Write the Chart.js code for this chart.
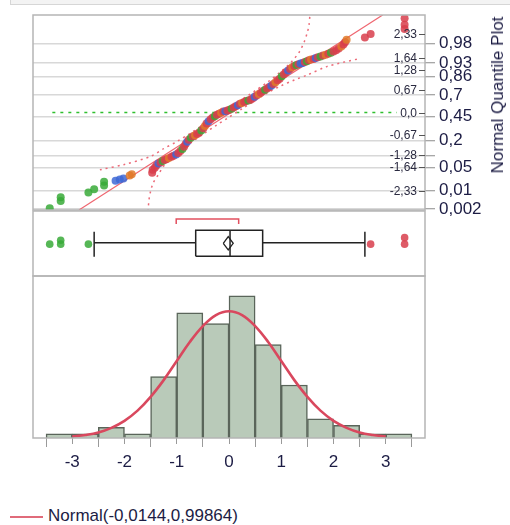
<!DOCTYPE html>
<html>
<head>
<meta charset="utf-8">
<title>Normal Quantile Plot</title>
<script src="https://cdn.jsdelivr.net/npm/chart.js@4.4.1/dist/chart.umd.min.js"></script>
<style>
  html, body { margin: 0; padding: 0; background: #fff; }
  body { position: relative; width: 510px; height: 525px; overflow: hidden;
         font-family: 'Liberation Sans', Arial, sans-serif; color: #1c1c44; }
  .topbar { position: absolute; left: 10px; top: -1px; width: 505px; height: 4px;
            background: #f3f3f3; border: 1px solid #d6d6d6; }
  canvas { position: absolute; left: 0; }
  #qq { top: 0; }
  #box { top: 200px; }
  #hist { top: 260px; }
  .ytitle { position: absolute; left: 498px; top: 95px; white-space: nowrap; font-size: 17px;
            transform: translate(-50%, -50%) rotate(-90deg); }
  .legend { position: absolute; left: 10px; top: 506px; font-size: 17px; white-space: nowrap; }
  .legend .swatch { display: inline-block; width: 33px; height: 2px; background: #e06b7a;
                    vertical-align: middle; margin-right: 5px; }
</style>
</head>
<body>
<div class="topbar"></div>
<canvas id="qq" width="510" height="225"></canvas>
<canvas id="box" width="510" height="90"></canvas>
<canvas id="hist" width="510" height="210"></canvas>
<div class="ytitle">Normal Quantile Plot</div>
<div class="legend"><span class="swatch"></span>Normal(-0,0144,0,99864)</div>
<script>
// ---- histogram ----
const binCenters = [-3.25, -2.75, -2.25, -1.75, -1.25, -0.75, -0.25, 0.25, 0.75, 1.25, 1.75, 2.25, 2.75, 3.25];
const binCounts  = [2, 2, 5, 2, 29, 59, 54, 67, 44, 25, 9, 6, 2, 2];

// fitted normal curve, in counts per bin
const curveX = [-3, -2.75, -2.5, -2.25, -2, -1.75, -1.5, -1.25, -1, -0.75, -0.5, -0.25, 0,
                0.25, 0.5, 0.75, 1, 1.25, 1.5, 1.75, 2, 2.25, 2.5, 2.75, 3];
const curveY = [0.7, 1.4, 2.6, 4.8, 8.1, 12.9, 19.4, 27.3, 36.3, 45.3, 52.8, 58.0, 59.8,
                58.0, 52.8, 45.3, 36.3, 27.3, 19.4, 12.9, 8.1, 4.8, 2.6, 1.4, 0.7];

// ---- normal quantile plot (value, normal quantile, colour group) ----
const qqX = [-3.43, -3.22, -3.22, -2.69, -2.58, -2.39, -2.39, -2.17, -2.09, -2.02, -1.90, -1.86,
  -1.47, -1.46, -1.42, -1.39, -1.35, -1.31, -1.27, -1.23, -1.19, -1.15,
  -1.10, -1.06, -1.01, -0.97, -0.93, -0.89, -0.86, -0.83, -0.80, -0.77,
  -0.73, -0.69, -0.65, -0.61, -0.57, -0.53, -0.49, -0.46, -0.43, -0.39,
  -0.35, -0.31, -0.27, -0.23, -0.19, -0.15, -0.11, -0.07, -0.03, 0.01,
  0.05, 0.09, 0.13, 0.17, 0.21, 0.25, 0.29, 0.33, 0.37, 0.41,
  0.45, 0.49, 0.53, 0.57, 0.61, 0.65, 0.69, 0.73, 0.77, 0.81,
  0.85, 0.89, 0.93, 0.97, 1.01, 1.05, 1.09, 1.13, 1.17, 1.21,
  1.25, 1.29, 1.33, 1.37, 1.41, 1.45, 1.49, 1.53, 1.57, 1.62,
  1.66, 1.70, 1.75, 1.80, 1.85, 1.90, 1.95, 2.00, 2.05, 2.10,
  2.15, 2.19, 2.22, 2.25,
  2.60, 2.71, 3.36, 3.36, 3.36];
const qqY = [-2.86, -2.64, -2.53, -2.39, -2.29, -2.18, -2.07, -2.04, -2.00, -1.97, -1.88, -1.84,
  -1.80, -1.71, -1.65, -1.58, -1.52, -1.49, -1.45, -1.42, -1.39, -1.36,
  -1.32, -1.29, -1.25, -1.21, -1.15, -1.09, -1.02, -0.94, -0.87, -0.81,
  -0.75, -0.71, -0.68, -0.64, -0.60, -0.54, -0.47, -0.40, -0.33, -0.26,
  -0.20, -0.15, -0.11, -0.07, -0.04, -0.01, 0.03, 0.04, 0.06, 0.08,
  0.11, 0.15, 0.19, 0.22, 0.26, 0.28, 0.31, 0.34, 0.36, 0.38,
  0.42, 0.47, 0.51, 0.55, 0.59, 0.64, 0.68, 0.72, 0.76, 0.80,
  0.85, 0.90, 0.96, 1.01, 1.08, 1.14, 1.20, 1.25, 1.30, 1.35,
  1.39, 1.42, 1.44, 1.46, 1.48, 1.51, 1.53, 1.56, 1.58, 1.60,
  1.63, 1.65, 1.67, 1.70, 1.72, 1.75, 1.78, 1.82, 1.86, 1.91,
  1.97, 2.03, 2.10, 2.17,
  2.24, 2.34, 2.49, 2.62, 2.81];
const qqGroup = [1, 1, 1, 1, 1, 1, 1, 2, 2, 2, 3, 3,
  0, 0, 0, 0, 2, 0, 1, 0, 0, 3,
  0, 0, 2, 0, 0, 1, 0, 0, 2, 0,
  1, 0, 3, 0, 0, 1, 0, 3, 0, 2,
  0, 0, 1, 0, 0, 3, 0, 2, 0, 0,
  1, 0, 0, 2, 0, 3, 0, 0, 1, 0,
  0, 2, 0, 3, 0, 0, 1, 0, 0, 2,
  0, 3, 0, 0, 1, 0, 0, 2, 0, 3,
  0, 1, 0, 2, 2, 0, 1, 0, 3, 0,
  2, 0, 1, 0, 3, 0, 1, 0, 0, 0,
  3, 0, 0, 3,
  0, 0, 0, 0, 0];

// normal fit line and Lilliefors confidence bands
const fitLineX = [-2.87, 2.94];
const fitLineY = [-2.91, 2.91];
const bandUpX = [-2.47, -2.0, -1.5, -1.25, -1.0, -0.75, -0.5, -0.25, 0, 0.25, 0.5, 0.75, 1.0, 1.2, 1.35, 1.45, 1.5, 1.53, 1.55];
const bandUpY = [-1.71, -1.55, -1.31, -1.08, -0.87, -0.63, -0.37, -0.11, 0.14, 0.39, 0.65, 0.92, 1.23, 1.52, 1.82, 2.15, 2.4, 2.6, 2.95];
const bandLoX = [-1.55, -1.53, -1.50, -1.45, -1.35, -1.25, -1.0, -0.75, -0.5, -0.25, 0, 0.25, 0.5, 0.75, 1.0, 1.25, 1.5, 1.87, 2.47];
const bandLoY = [-2.95, -2.60, -2.35, -2.10, -1.85, -1.60, -1.24, -0.93, -0.65, -0.39, -0.14, 0.11, 0.36, 0.60, 0.80, 0.97, 1.12, 1.37, 1.60];
const zeroLineX = [-3.38, 3.21];
const zeroLineY = [0, 0];

// ---- outlier box plot ----
const boxQ1 = -0.637, boxMedian = 0.02, boxQ3 = 0.644;
const whiskerLo = -2.58, whiskerHi = 2.60;
const meanValue = -0.0144, meanCI = 0.095;
const shortestHalf = [-1.01, 0.185];
const outlierX = [-3.43, -3.22, -3.22, -2.69, 2.71, 3.36, 3.36];
const outlierJitter = [0.49, 0.55, 0.49, 0.49, 0.49, 0.59, 0.49];
const outlierGroup = [1, 1, 1, 1, 0, 0, 0];

// ---- axes ----
const xTicks = [-3, -2, -1, 0, 1, 2, 3];
const xMinorTicks = [-3.5, -2.5, -1.5, -0.5, 0.5, 1.5, 2.5, 3.5];
const quantileTicks = [-2.33, -1.64, -1.28, -0.67, 0, 0.67, 1.28, 1.64, 2.33];
const quantileLabels = ['-2,33', '-1,64', '-1,28', '-0,67', '0,0', '0,67', '1,28', '1,64', '2,33'];
const probTicks = [-2.878, -2.326, -1.645, -1.282, -0.842, -0.126, 0.524, 1.080, 1.476, 2.054];
const probLabels = ['0,002', '0,01', '0,05', '', '0,2', '0,45', '0,7', '0,86', '0,93', '0,98'];

const groupColors = ['rgba(216,62,76,0.85)', 'rgba(56,170,56,0.85)', 'rgba(62,104,214,0.85)', 'rgba(224,122,42,0.85)'];
const textColor = '#1c1c44';
const X_MIN = -3.75, X_MAX = 3.75;

Chart.defaults.font.family = "'Liberation Sans', Arial, sans-serif";
Chart.defaults.color = textColor;
Chart.defaults.animation = false;
Chart.defaults.plugins.legend.display = false;
Chart.defaults.plugins.tooltip.enabled = false;

const frame = {
  id: 'frame',
  afterDraw(chart) {
    const { ctx, chartArea: a } = chart;
    ctx.save();
    ctx.strokeStyle = '#b5b5b5';
    ctx.lineWidth = 1.5;
    ctx.strokeRect(a.left, a.top, a.right - a.left, a.bottom - a.top);
    ctx.restore();
  }
};

// normal quantile labels sit inside the plot, against the right edge
const quantileAxis = {
  id: 'quantileAxis',
  afterDraw(chart) {
    const { ctx, chartArea: a, scales: { y } } = chart;
    ctx.save();
    ctx.font = "12px 'Liberation Sans', Arial, sans-serif";
    ctx.fillStyle = '#2a2a40';
    ctx.strokeStyle = '#555';
    ctx.lineWidth = 1;
    ctx.textAlign = 'right';
    ctx.textBaseline = 'middle';
    quantileTicks.forEach((v, i) => {
      const py = Math.round(y.getPixelForValue(v)) + 0.5;
      ctx.beginPath();
      ctx.moveTo(a.right - 6, py);
      ctx.lineTo(a.right, py);
      ctx.stroke();
      ctx.fillText(quantileLabels[i], a.right - 8, py);
    });
    ctx.restore();
  }
};

function pts(xs, ys) {
  return xs.map((x, i) => ({ x, y: ys[i] }));
}

function lineSet(data, color, width, dash, tension) {
  return {
    type: 'line', data, showLine: true,
    borderColor: color, borderWidth: width, borderDash: dash || [],
    pointRadius: 0, fill: false, tension: tension || 0, order: 5
  };
}

// ---- top panel: normal quantile plot ----
new Chart(document.getElementById('qq'), {
  type: 'scatter',
  data: {
    datasets: [
      {
        type: 'scatter',
        data: pts(qqX, qqY),
        backgroundColor: qqGroup.map(g => groupColors[g]),
        borderWidth: 0,
        pointRadius: 4,
        order: 0
      },
      lineSet(pts(fitLineX, fitLineY), '#ef6670', 1.2),
      lineSet(pts(bandUpX, bandUpY), '#ec6a78', 1.5, [2, 4], 0.3),
      lineSet(pts(bandLoX, bandLoY), '#ec6a78', 1.5, [2, 4], 0.3),
      lineSet(pts(zeroLineX, zeroLineY), '#2fbf2f', 1.5, [3, 5])
    ]
  },
  options: {
    responsive: false,
    layout: { padding: { left: 33, top: 15, bottom: 15, right: 0 } },
    scales: {
      x: { type: 'linear', min: X_MIN, max: X_MAX, display: false },
      y: {
        type: 'linear', position: 'right', min: -2.91, max: 2.91,
        afterBuildTicks: s => { s.ticks = probTicks.map(v => ({ value: v })); },
        afterFit: s => { s.width = 85; },
        ticks: { callback: (v, i) => probLabels[i], font: { size: 17 }, padding: 4, autoSkip: false },
        grid: { color: '#d8d8d8', lineWidth: 1.5, tickLength: 10, tickColor: '#8a8a8a', tickWidth: 1 },
        border: { display: false }
      }
    }
  },
  plugins: [frame, quantileAxis]
});

// ---- middle panel: outlier box plot ----
const boxLine = '#222';
new Chart(document.getElementById('box'), {
  type: 'scatter',
  data: {
    datasets: [
      lineSet([{ x: boxQ1, y: 0.303 }, { x: boxQ3, y: 0.303 }, { x: boxQ3, y: 0.703 },
               { x: boxQ1, y: 0.703 }, { x: boxQ1, y: 0.303 }], boxLine, 1.5),
      lineSet([{ x: boxMedian, y: 0.303 }, { x: boxMedian, y: 0.703 }], boxLine, 1.5),
      lineSet([{ x: whiskerLo, y: 0.512 }, { x: boxQ1, y: 0.512 }], boxLine, 1.5),
      lineSet([{ x: boxQ3, y: 0.512 }, { x: whiskerHi, y: 0.512 }], boxLine, 1.5),
      lineSet([{ x: whiskerLo, y: 0.297 }, { x: whiskerLo, y: 0.682 }], boxLine, 1.5),
      lineSet([{ x: whiskerHi, y: 0.297 }, { x: whiskerHi, y: 0.682 }], boxLine, 1.5),
      lineSet([{ x: meanValue - meanCI, y: 0.503 }, { x: meanValue, y: 0.605 },
               { x: meanValue + meanCI, y: 0.503 }, { x: meanValue, y: 0.40 },
               { x: meanValue - meanCI, y: 0.503 }], boxLine, 1.3),
      lineSet([{ x: shortestHalf[0], y: 0.80 }, { x: shortestHalf[0], y: 0.877 },
               { x: shortestHalf[1], y: 0.877 }, { x: shortestHalf[1], y: 0.80 }], '#e2505f', 1.5),
      {
        type: 'scatter',
        data: outlierX.map((x, i) => ({ x, y: outlierJitter[i] })),
        backgroundColor: outlierGroup.map(g => groupColors[g]),
        borderWidth: 0, pointRadius: 3.8, order: 0
      }
    ]
  },
  options: {
    responsive: false,
    layout: { padding: { left: 33, top: 11, bottom: 14, right: 85 } },
    scales: {
      x: { type: 'linear', min: X_MIN, max: X_MAX, display: false },
      y: { type: 'linear', min: 0, max: 1, display: false }
    }
  },
  plugins: [frame]
});

// ---- bottom panel: histogram with normal fit ----
new Chart(document.getElementById('hist'), {
  type: 'bar',
  data: {
    datasets: [
      {
        type: 'line', data: pts(curveX, curveY),
        borderColor: '#d9485e', borderWidth: 2.6, pointRadius: 0,
        tension: 0.4, fill: false, order: 0
      },
      {
        type: 'bar', data: pts(binCenters, binCounts),
        backgroundColor: '#b9cab9', borderColor: '#5a655a', borderWidth: 1.5,
        barPercentage: 1, categoryPercentage: 1, order: 1
      }
    ]
  },
  options: {
    responsive: false,
    layout: { padding: { left: 33, top: 16, bottom: 0, right: 85 } },
    scales: {
      xm: {
        type: 'linear', position: 'bottom', axis: 'x', min: X_MIN, max: X_MAX, offset: false, weight: 0,
        afterBuildTicks: s => { s.ticks = xMinorTicks.map(v => ({ value: v })); },
        afterFit: s => { s.height = 0; },
        ticks: { display: false },
        grid: { drawOnChartArea: false, tickLength: 6, tickColor: '#9a9a9a' },
        border: { display: false }
      },
      x: {
        type: 'linear', position: 'bottom', min: X_MIN, max: X_MAX, offset: false, weight: 1,
        afterBuildTicks: s => { s.ticks = xTicks.map(v => ({ value: v })); },
        afterFit: s => { s.height = 32; },
        ticks: { font: { size: 17 }, padding: 5, callback: v => String(v) },
        grid: { drawOnChartArea: false, tickLength: 9, tickColor: '#9a9a9a' },
        border: { display: false }
      },
      y: { type: 'linear', min: 0, max: 76.4, display: false }
    }
  },
  plugins: [frame]
});
</script>
</body>
</html>
